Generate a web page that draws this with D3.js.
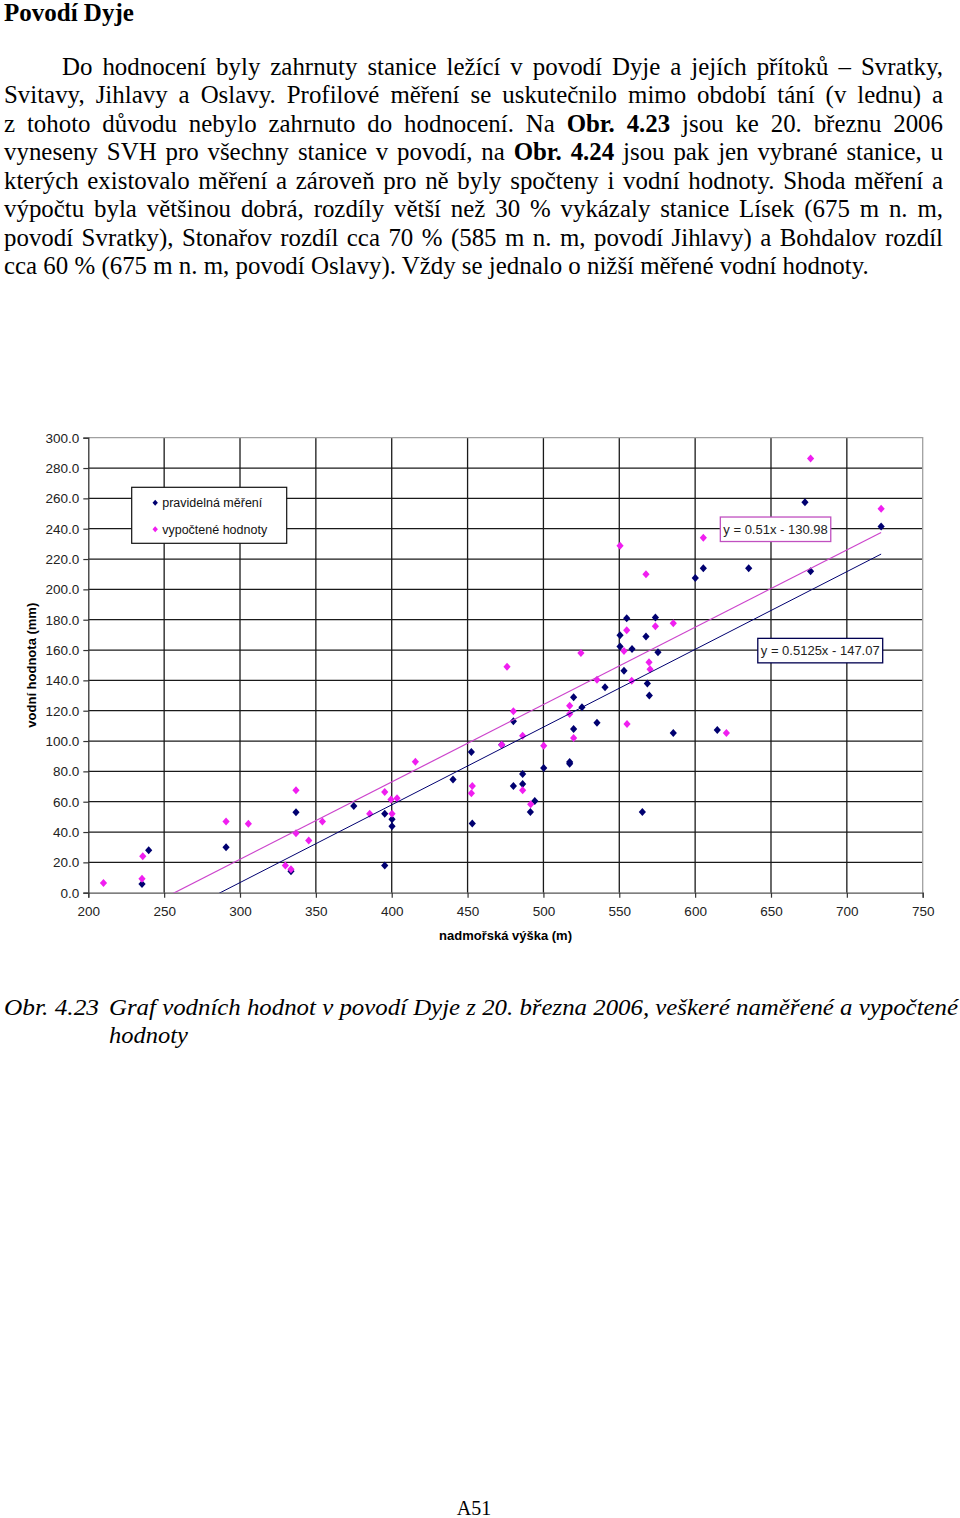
<!DOCTYPE html>
<html>
<head>
<meta charset="utf-8">
<script src="https://cdn.jsdelivr.net/npm/d3@7"></script>
<style>
  body { margin: 0; background: #fff; }
  #wrap { position: relative; width: 960px; height: 1518px; overflow: hidden; font-family: "Liberation Serif", "Times New Roman", serif; color: #000; }
  #page { position: absolute; left: 0; top: 0; }
  .ln { position: absolute; left: 4px; width: 939px; font-size: 24.9px; line-height: 28.5px; text-align: justify; text-align-last: justify; }
  .ln.last { text-align-last: left; }
  .head { position: absolute; left: 4px; font-size: 25px; font-weight: bold; line-height: 28px; }
</style>
</head>
<body>
<div id="wrap">
  <svg id="page" width="960" height="1518"></svg>
</div>
<script>
// pravidelná měření (navy)
var measuredX = [235.4, 239.8, 290.8, 333.6, 336.9, 375.0, 395.4, 395.4, 400.2, 400.2, 440.4, 452.5, 453.1, 472.5, 480.2, 480.2, 486.3, 486.3, 491.4, 494.3, 500.2, 517.3, 517.3, 519.9, 519.9, 525.4, 535.3, 540.6, 550.5, 550.5, 553.1, 554.9, 558.4, 565.2, 567.6, 568.5, 569.8, 573.8, 575.5, 585.6, 600.1, 605.4, 614.6, 635.3, 672.4, 676.1, 722.6];
var measuredY = [5.7, 28.0, 29.9, 14.1, 53.0, 57.2, 52.0, 18.0, 48.4, 43.8, 74.7, 92.7, 45.7, 97.6, 113.0, 70.3, 78.2, 71.7, 53.2, 60.4, 82.2, 86.2, 85.0, 128.8, 107.9, 122.2, 112.0, 135.4, 169.7, 162.4, 146.3, 180.9, 160.6, 53.2, 169.0, 138.0, 130.1, 181.5, 158.5, 105.3, 207.5, 214.0, 107.3, 214.0, 257.5, 212.0, 241.5];

// vypočtené hodnoty (magenta)
var computedX = [210.0, 235.4, 235.9, 290.8, 305.5, 329.9, 333.6, 336.9, 336.9, 345.3, 354.3, 385.5, 395.4, 399.5, 403.5, 400.2, 415.6, 452.5, 453.1, 472.5, 476.0, 480.2, 486.3, 486.3, 491.6, 500.2, 517.3, 517.3, 519.9, 524.7, 535.3, 550.5, 553.1, 554.9, 555.1, 558.2, 567.6, 569.6, 570.3, 573.8, 585.6, 605.4, 620.6, 676.1, 722.6];
var computedY = [6.4, 9.2, 24.0, 47.0, 45.5, 18.0, 15.4, 67.5, 39.2, 34.5, 47.0, 52.0, 66.4, 61.5, 62.2, 52.0, 86.4, 65.5, 70.3, 97.6, 149.0, 119.6, 103.5, 67.5, 58.3, 96.9, 123.3, 117.8, 102.0, 158.0, 140.4, 228.7, 159.3, 173.0, 111.2, 139.8, 210.0, 151.9, 147.3, 175.6, 177.6, 234.0, 105.3, 286.3, 253.1];

// linear trend lines shown in the chart: [slope, intercept]
var trendComputed = [0.51, -130.98];
var trendMeasured = [0.5125, -147.07];

var xTicks = [200, 250, 300, 350, 400, 450, 500, 550, 600, 650, 700, 750];
var yTicks = [0, 20, 40, 60, 80, 100, 120, 140, 160, 180, 200, 220, 240, 260, 280, 300];

var seriesNames = ["pravidelná měření", "vypočtené hodnoty"];
var xTitle = "nadmořská výška (m)";
var yTitle = "vodní hodnota (mm)";

var paragraph = [
  "Do hodnocení byly zahrnuty stanice ležící v\u00a0povodí Dyje a jejích přítoků – Svratky,",
  "Svitavy, Jihlavy a Oslavy. Profilové měření se uskutečnilo mimo období tání (v lednu) a",
  "z\u00a0tohoto důvodu nebylo zahrnuto do hodnocení. Na <b>Obr. 4.23</b> jsou ke\u00a020. březnu 2006",
  "vyneseny SVH pro všechny stanice v\u00a0povodí, na <b>Obr. 4.24</b> jsou pak jen vybrané stanice, u",
  "kterých existovalo měření a zároveň pro ně byly spočteny i vodní hodnoty. Shoda měření a",
  "výpočtu byla většinou dobrá, rozdíly větší než 30 % vykázaly stanice Lísek (675 m n. m,",
  "povodí Svratky), Stonařov rozdíl cca 70 % (585 m n. m, povodí Jihlavy) a Bohdalov rozdíl",
  "cca 60 % (675 m n. m, povodí Oslavy). Vždy se jednalo o nižší měřené vodní hodnoty."
];

var wrap = d3.select("#wrap");
var svg = d3.select("#page");

// heading and paragraph
wrap.append("div").attr("class", "head").style("top", "-1px").text("Povodí Dyje");

wrap.selectAll("div.ln")
    .data(paragraph)
  .enter().append("div")
    .attr("class", function(d, i) { return i == paragraph.length - 1 ? "ln last" : "ln"; })
    .style("top", function(d, i) { return (52.5 + i * 28.5) + "px"; })
    .style("padding-left", function(d, i) { return i == 0 ? "58px" : "0px"; })
    .style("width", function(d, i) { return i == 0 ? "881px" : "939px"; })
    .html(function(d) { return d; });

// chart
var x = d3.scaleLinear().domain([200, 750]).range([88.3, 922.7]);
var y = d3.scaleLinear().domain([0, 300]).range([892.7, 437.7]);

var chart = svg.append("g").attr("font-family", "'Liberation Sans', Arial, sans-serif");

chart.append("defs").append("clipPath").attr("id", "plotclip")
  .append("rect")
    .attr("x", x(200)).attr("y", y(300))
    .attr("width", x(750) - x(200)).attr("height", y(0) - y(300));

// gridlines
chart.append("g").selectAll("line")
    .data(yTicks.filter(function(d) { return d > 0 && d < 300; }))
  .enter().append("line")
    .attr("x1", x(200)).attr("x2", x(750))
    .attr("y1", function(d) { return y(d); }).attr("y2", function(d) { return y(d); })
    .attr("stroke", "#1a1a1a").attr("stroke-width", 1.3);

chart.append("g").selectAll("line")
    .data(xTicks.filter(function(d) { return d > 200 && d < 750; }))
  .enter().append("line")
    .attr("y1", y(0)).attr("y2", y(300))
    .attr("x1", function(d) { return x(d); }).attr("x2", function(d) { return x(d); })
    .attr("stroke", "#1a1a1a").attr("stroke-width", 1.3);

// plot border top / right
chart.append("path")
    .attr("d", "M" + x(200) + "," + y(300) + "H" + x(750) + "V" + y(0))
    .attr("fill", "none").attr("stroke", "#a0a0a0").attr("stroke-width", 1.3);

// axes
var yAxis = chart.append("g")
    .attr("transform", "translate(" + x(200) + ",0)")
    .call(d3.axisLeft(y).tickValues(yTicks).tickFormat(d3.format(".1f")).tickSize(5).tickPadding(4));

var xAxis = chart.append("g")
    .attr("transform", "translate(0," + y(0) + ")")
    .call(d3.axisBottom(x).tickValues(xTicks).tickFormat(d3.format("d")).tickSize(5).tickPadding(9));

[yAxis, xAxis].forEach(function(a) {
  a.select(".domain").attr("stroke", "#333").attr("stroke-width", 1.3);
  a.selectAll(".tick line").attr("stroke", "#333").attr("stroke-width", 1.2);
  a.selectAll(".tick text").attr("fill", "#222").attr("font-size", "13.5px")
    .attr("font-family", "'Liberation Sans', Arial, sans-serif");
});
xAxis.select(".domain").attr("stroke", "#555");

// axis titles
chart.append("text")
    .attr("x", (x(200) + x(750)) / 2).attr("y", 940)
    .attr("text-anchor", "middle")
    .attr("font-size", "13px").attr("font-weight", "bold")
    .text(xTitle);

chart.append("text")
    .attr("transform", "translate(36," + ((y(0) + y(300)) / 2) + ") rotate(-90)")
    .attr("text-anchor", "middle")
    .attr("font-size", "13px").attr("font-weight", "bold")
    .text(yTitle);

// trend lines
function trendPoints(xs, coef) {
  var ext = d3.extent(xs);
  return ext.map(function(v) { return [v, coef[0] * v + coef[1]]; });
}
var line = d3.line()
    .x(function(d) { return x(d[0]); })
    .y(function(d) { return y(d[1]); });

var diamond = "M0,-4L3.6,0L0,4L-3.6,0Z";

function zip(xs, ys) {
  return xs.map(function(v, i) { return [v, ys[i]]; });
}

chart.append("g").selectAll("path")
    .data(zip(measuredX, measuredY))
  .enter().append("path")
    .attr("d", diamond)
    .attr("transform", function(d) { return "translate(" + x(d[0]) + "," + y(d[1]) + ")"; })
    .attr("fill", "#000070");

chart.append("g").selectAll("path")
    .data(zip(computedX, computedY))
  .enter().append("path")
    .attr("d", diamond)
    .attr("transform", function(d) { return "translate(" + x(d[0]) + "," + y(d[1]) + ")"; })
    .attr("fill", "#f01ef0");

var trends = chart.append("g").attr("clip-path", "url(#plotclip)");
trends.append("path")
    .attr("d", line(trendPoints(computedX, trendComputed)))
    .attr("fill", "none").attr("stroke", "#cc44cc").attr("stroke-width", 1.2);
trends.append("path")
    .attr("d", line(trendPoints(measuredX, trendMeasured)))
    .attr("fill", "none").attr("stroke", "#000070").attr("stroke-width", 1);

// equation labels, anchored in data units (left, top)
var eqLabels = [
  { text: "y = 0.51x - 130.98", at: [616.6, 247.7], color: "#c050c0" },
  { text: "y = 0.5125x - 147.07", at: [641.3, 167.7], color: "#000050" }
];
eqLabels.forEach(function(l) {
  var g = chart.append("g")
      .attr("transform", "translate(" + x(l.at[0]) + "," + y(l.at[1]) + ")");
  var t = g.append("text")
      .attr("x", 3).attr("y", 17)
      .attr("font-size", "13px").attr("fill", "#222")
      .text(l.text);
  var w = t.node().getComputedTextLength();
  g.insert("rect", "text")
      .attr("width", w + 6).attr("height", 24.5)
      .attr("fill", "#fff").attr("stroke", l.color).attr("stroke-width", 1.3);
});

// legend
var legend = chart.append("g").attr("transform", "translate(131.7,487.3)");
legend.append("rect")
    .attr("width", 155).attr("height", 56)
    .attr("fill", "#fff").attr("stroke", "#111").attr("stroke-width", 1.2);
var legendColors = ["#000070", "#f01ef0"];
var items = legend.selectAll("g.item")
    .data(seriesNames)
  .enter().append("g")
    .attr("class", "item")
    .attr("transform", function(d, i) { return "translate(0," + (15.5 + i * 26.5) + ")"; });
items.append("path")
    .attr("d", "M0,-3L2.7,0L0,3L-2.7,0Z")
    .attr("transform", "translate(23.5,0)")
    .attr("fill", function(d, i) { return legendColors[i]; });
items.append("text")
    .attr("x", 30.5).attr("y", 4.5)
    .attr("font-size", "12.5px").attr("fill", "#111")
    .text(function(d) { return d; });

// caption
var caption = svg.append("g")
    .attr("font-family", "'Liberation Serif', 'Times New Roman', serif")
    .attr("font-style", "italic").attr("font-size", "24px");
caption.append("text").attr("x", 4).attr("y", 1015)
    .attr("textLength", 95).attr("lengthAdjust", "spacingAndGlyphs")
    .text("Obr. 4.23");
caption.append("text").attr("x", 109).attr("y", 1015)
    .attr("textLength", 849).attr("lengthAdjust", "spacingAndGlyphs")
    .text("Graf vodních hodnot v povodí Dyje z 20. března 2006, veškeré naměřené a vypočtené");
caption.append("text").attr("x", 109).attr("y", 1043)
    .attr("textLength", 79).attr("lengthAdjust", "spacingAndGlyphs")
    .text("hodnoty");

// page number
svg.append("text")
    .attr("x", 474).attr("y", 1515)
    .attr("text-anchor", "middle")
    .attr("font-family", "'Liberation Serif', 'Times New Roman', serif")
    .attr("font-size", "20px")
    .text("A51");
</script>
</body>
</html>
